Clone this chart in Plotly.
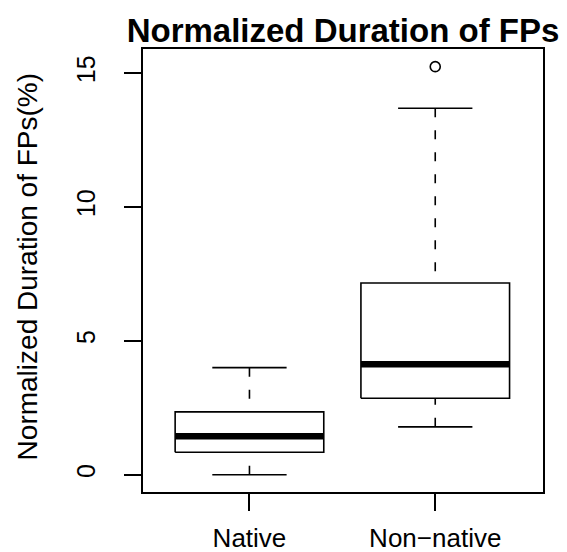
import plotly.graph_objects as go

# ---- data ----
categories = ["Native", "Non\u2212native"]
positions = [1, 2]
lower_whisker = [0.0, 1.79]
q1 = [0.84, 2.86]
median = [1.44, 4.13]
q3 = [2.35, 7.16]
upper_whisker = [4.00, 13.69]
outliers = [[], [15.24]]
y_ticks = [0, 5, 10, 15]

BOX_HALF = 0.4
CAP_HALF = 0.2
FONT = "Liberation Sans, Arial, Helvetica, sans-serif"

fig = go.Figure()
for i, p in enumerate(positions):
    # box
    fig.add_trace(go.Scatter(
        x=[p - BOX_HALF, p + BOX_HALF, p + BOX_HALF, p - BOX_HALF, p - BOX_HALF],
        y=[q1[i], q1[i], q3[i], q3[i], q1[i]],
        mode="lines", line=dict(color="black", width=1.6),
        hoverinfo="skip", showlegend=False))
    # whiskers (dashed)
    for end, edge in ((upper_whisker[i], q3[i]), (lower_whisker[i], q1[i])):
        fig.add_trace(go.Scatter(
            x=[p, p], y=[end, edge], mode="lines",
            line=dict(color="black", width=1.6, dash="9px,13px"),
            hoverinfo="skip", showlegend=False))
        fig.add_trace(go.Scatter(
            x=[p - CAP_HALF, p + CAP_HALF], y=[end, end], mode="lines",
            line=dict(color="black", width=1.6),
            hoverinfo="skip", showlegend=False))
    # median (thick)
    fig.add_trace(go.Scatter(
        x=[p - BOX_HALF, p + BOX_HALF], y=[median[i], median[i]], mode="lines",
        line=dict(color="black", width=6.5),
        hoverinfo="skip", showlegend=False))
    # outliers
    if outliers[i]:
        fig.add_trace(go.Scatter(
            x=[p] * len(outliers[i]), y=outliers[i], mode="markers",
            marker=dict(symbol="circle-open", size=10, color="black",
                        line=dict(width=1.6, color="black")),
            hoverinfo="skip", showlegend=False))

fig.add_annotation(
    text="Normalized Duration of FPs(%)", textangle=-90,
    xref="paper", yref="paper", x=(27 - 143) / 400, y=0.507,
    xanchor="center", yanchor="middle", showarrow=False,
    font=dict(family=FONT, size=28, color="black"))

fig.update_layout(
    width=567, height=552,
    margin=dict(l=143, r=24, t=49, b=60),
    paper_bgcolor="white", plot_bgcolor="white",
    font=dict(family=FONT, color="black"),
    title=dict(text="<b>Normalized Duration of FPs</b>",
               font=dict(family=FONT, size=33, color="black"),
               x=0.5, xanchor="center", xref="paper",
               y=1 - 30 / 552, yanchor="middle", yref="container"),
    xaxis=dict(range=[0.427, 2.58], tickmode="array", tickvals=positions,
               ticktext=categories, showline=True, mirror=True,
               linecolor="black", linewidth=1.6, ticks="outside", ticklen=17,
               tickwidth=1.6, tickcolor="black", showgrid=False, zeroline=False,
               ticklabelstandoff=5, automargin=False,
               tickfont=dict(family=FONT, size=26, color="black")),
    yaxis=dict(range=[-0.643, 15.9], tickmode="array", tickvals=y_ticks,
               ticktext=[str(t) for t in y_ticks], tickangle=-90,
               showline=True, mirror=True, linecolor="black", linewidth=1.6,
               ticks="outside", ticklen=17, tickwidth=1.6, tickcolor="black",
               showgrid=False, zeroline=False, ticklabelstandoff=19,
               automargin=False,
               tickfont=dict(family=FONT, size=25, color="black")),
)

fig.write_html("out.html")
